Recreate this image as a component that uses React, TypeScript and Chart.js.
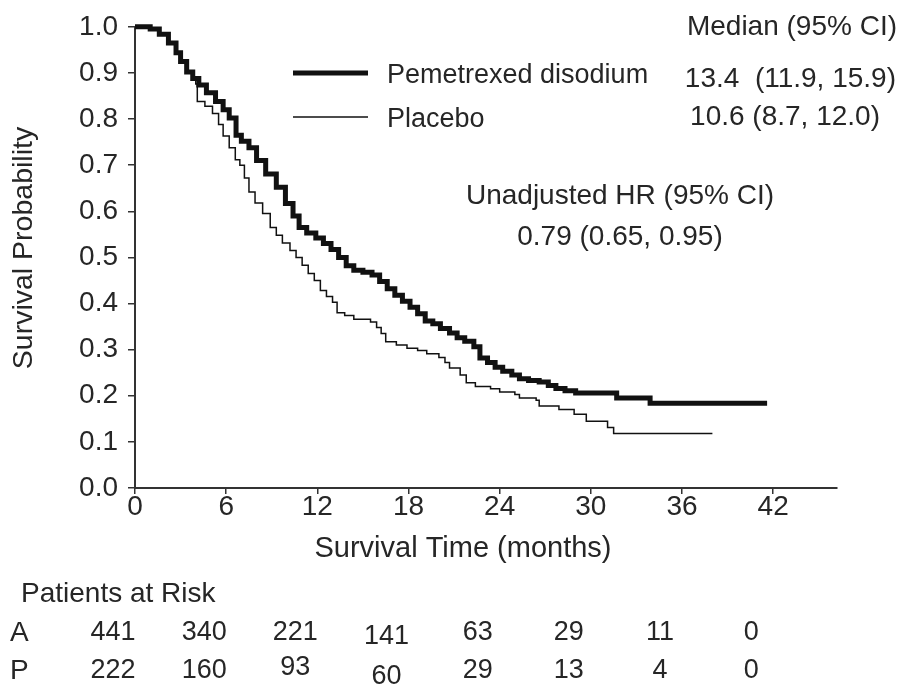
import { useEffect, useRef } from 'react'
import { Chart, registerables } from 'chart.js'

Chart.register(...registerables)

// Kaplan-Meier curves (months, survival probability)
const pemTime = [
  0, 0.5, 1.0, 1.6, 2.2, 2.7, 3.0, 3.4, 3.8, 4.2, 4.7, 5.3, 5.8, 6.2, 6.65, 7.0, 7.5, 8.0, 8.6, 9.3,
  9.9, 10.4, 10.8, 11.3, 11.9, 12.4, 12.9, 13.4, 13.9, 14.4, 15.0, 15.6, 16.1, 16.6, 17.1, 17.6,
  18.1, 18.6, 19.1, 19.6, 20.1, 20.7, 21.2, 21.7, 22.3, 22.7, 23.2, 23.7, 24.2, 24.8, 25.3, 25.9,
  26.6, 27.2, 27.7, 28.3, 29.0, 31.7, 33.9, 41.6,
]
const pemSurv = [
  1.0, 1.0, 0.995, 0.984, 0.965, 0.944, 0.925, 0.902, 0.888, 0.874, 0.857, 0.838, 0.82, 0.802, 0.765,
  0.752, 0.738, 0.71, 0.681, 0.652, 0.617, 0.59, 0.565, 0.553, 0.542, 0.53, 0.517, 0.5, 0.482, 0.472,
  0.468, 0.462, 0.448, 0.432, 0.418, 0.405, 0.392, 0.378, 0.362, 0.356, 0.346, 0.336, 0.326, 0.318,
  0.306, 0.282, 0.272, 0.262, 0.253, 0.245, 0.237, 0.233, 0.23, 0.222, 0.216, 0.211, 0.206, 0.195,
  0.184, 0.184,
]
const plaTime = [
  0, 0.5, 1.0, 1.6, 2.2, 2.7, 3.0, 3.4, 3.8, 4.0, 4.1, 4.6, 5.1, 5.5, 5.8, 6.2, 6.6, 6.9, 7.2, 7.5,
  7.9, 8.4, 8.9, 9.3, 9.7, 10.2, 10.6, 11.0, 11.4, 11.8, 12.2, 12.6, 13.0, 13.3, 13.8, 14.4, 15.5,
  15.9, 16.2, 16.5, 17.2, 17.9, 18.6, 19.2, 20.0, 20.4, 20.7, 21.4, 21.8, 22.4, 23.4, 24.0, 25.0,
  25.3, 26.4, 26.6, 27.9, 28.9, 29.7, 31.1, 31.5, 38.0,
]
const plaSurv = [
  1.0, 1.0, 0.995, 0.984, 0.965, 0.944, 0.925, 0.902, 0.888, 0.876, 0.838, 0.828, 0.812, 0.788, 0.763,
  0.738, 0.712, 0.7, 0.672, 0.642, 0.618, 0.595, 0.565, 0.548, 0.531, 0.515, 0.5, 0.483, 0.465, 0.45,
  0.428, 0.415, 0.403, 0.38, 0.374, 0.366, 0.36, 0.348, 0.335, 0.317, 0.31, 0.303, 0.298, 0.291,
  0.283, 0.272, 0.26, 0.245, 0.228, 0.22, 0.215, 0.208, 0.203, 0.195, 0.19, 0.178, 0.17, 0.16, 0.145,
  0.131, 0.118, 0.118,
]

const xTicks = [0, 6, 12, 18, 24, 30, 36, 42]
const yTicks = [0, 0.1, 0.2, 0.3, 0.4, 0.5, 0.6, 0.7, 0.8, 0.9, 1.0]

const seriesNames = ['Pemetrexed disodium', 'Placebo']
const medianHeader = 'Median (95% CI)'
const medianLabels = ['13.4  (11.9, 15.9)', '10.6 (8.7, 12.0)']
const hrLabels = ['Unadjusted HR (95% CI)', '0.79 (0.65, 0.95)']

const riskTimes = [0, 6, 12, 18, 24, 30, 36, 42]
const riskA = [441, 340, 221, 141, 63, 29, 11, 0]
const riskP = [222, 160, 93, 60, 29, 13, 4, 0]

const FAMILY = '"Liberation Sans", Arial, Helvetica, sans-serif'
const INK = '#262626'
const LINE = '#111111'
// small vertical nudges seen in the printed risk table
const shiftA = [0, 0, 0, 4, 0, 0, 0, 0]
const shiftP = [0, 0, -3, 6, 0, 0, 0, 0]

const textPlugin = {
  id: 'kmText',
  afterDraw(chart: any) {
    const { ctx } = chart
    const xs = chart.scales.x
    ctx.save()
    ctx.fillStyle = INK
    ctx.textBaseline = 'middle'

    // y axis title
    ctx.save()
    ctx.font = `28.5px ${FAMILY}`
    ctx.translate(24, 248)
    ctx.rotate(-Math.PI / 2)
    ctx.textAlign = 'center'
    ctx.fillText('Survival Probability', 0, 0)
    ctx.restore()

    // legend
    ctx.strokeStyle = LINE
    ctx.lineWidth = 5
    ctx.beginPath()
    ctx.moveTo(293, 73)
    ctx.lineTo(368, 73)
    ctx.stroke()
    ctx.lineWidth = 1.5
    ctx.beginPath()
    ctx.moveTo(293, 117)
    ctx.lineTo(368, 117)
    ctx.stroke()

    ctx.font = `27px ${FAMILY}`
    ctx.textAlign = 'left'
    ctx.fillText(seriesNames[0], 387, 76)
    ctx.fillText(seriesNames[1], 387, 120)

    ctx.font = `28px ${FAMILY}`
    ctx.textAlign = 'right'
    ctx.fillText(medianHeader, 897, 27)
    ctx.fillText(medianLabels[0], 896, 79)
    ctx.fillText(medianLabels[1], 880, 117)

    ctx.textAlign = 'center'
    ctx.fillText(hrLabels[0], 620, 196)
    ctx.fillText(hrLabels[1], 620, 237)
    ctx.font = `29px ${FAMILY}`
    ctx.fillText('Survival Time (months)', 463, 549)

    // patients at risk
    ctx.font = `28px ${FAMILY}`
    ctx.textAlign = 'left'
    ctx.fillText('Patients at Risk', 21, 594)
    ctx.fillText('A', 10, 633)
    ctx.fillText('P', 10, 671)
    ctx.font = `27px ${FAMILY}`
    ctx.textAlign = 'center'
    riskTimes.forEach((t, i) => {
      const px = xs.getPixelForValue(t) - 22
      ctx.fillText(String(riskA[i]), px, 633 + shiftA[i])
      ctx.fillText(String(riskP[i]), px, 671 + shiftP[i])
    })
    ctx.restore()
  },
}

export default function App() {
  const canvasRef = useRef<HTMLCanvasElement | null>(null)
  const chartRef = useRef<Chart | null>(null)

  useEffect(() => {
    const ctx = canvasRef.current?.getContext('2d')
    if (!ctx) return

    chartRef.current?.destroy()
    chartRef.current = new Chart(ctx, {
      type: 'line',
      data: {
        datasets: [
          {
            label: seriesNames[0],
            data: pemTime.map((t, i) => ({ x: t, y: pemSurv[i] })),
            borderColor: LINE,
            borderWidth: 5,
            pointRadius: 0,
            stepped: 'before',
            fill: false,
            clip: false,
          },
          {
            label: seriesNames[1],
            data: plaTime.map((t, i) => ({ x: t, y: plaSurv[i] })),
            borderColor: LINE,
            borderWidth: 1.5,
            pointRadius: 0,
            stepped: 'before',
            fill: false,
            clip: false,
          },
        ] as any,
      },
      options: {
        animation: false,
        responsive: true,
        maintainAspectRatio: false,
        layout: { padding: { top: 21, right: 67, bottom: 169, left: 0 } },
        plugins: {
          legend: { display: false },
          tooltip: { enabled: false },
        },
        scales: {
          x: {
            type: 'linear',
            min: 0,
            max: 46.2,
            afterBuildTicks: (s: any) => {
              s.ticks = xTicks.map((v) => ({ value: v }))
            },
            afterFit: (s: any) => {
              s.height = 30
            },
            border: { color: '#333', width: 2 },
            grid: {
              drawOnChartArea: false,
              drawTicks: true,
              tickLength: 6,
              color: '#333',
              lineWidth: 1.5,
            },
            ticks: {
              color: INK,
              font: { family: FAMILY, size: 28 },
              padding: -4,
              maxRotation: 0,
              autoSkip: false,
            },
          },
          y: {
            type: 'linear',
            min: 0,
            max: 1,
            afterBuildTicks: (s: any) => {
              s.ticks = yTicks.map((v) => ({ value: v }))
            },
            afterFit: (s: any) => {
              s.width = 135
            },
            border: { color: '#333', width: 2 },
            grid: {
              drawOnChartArea: false,
              drawTicks: true,
              tickLength: 7,
              color: '#333',
              lineWidth: 1.5,
            },
            ticks: {
              color: INK,
              font: { family: FAMILY, size: 28 },
              padding: 10,
              autoSkip: false,
              callback: (v: any) => Number(v).toFixed(1),
            },
          },
        },
      },
      plugins: [textPlugin],
    })

    return () => chartRef.current?.destroy()
  }, [])

  return (
    <div style={{ position: 'absolute', left: 0, top: 0, width: 904, height: 687, background: '#fff' }}>
      <canvas ref={canvasRef} />
    </div>
  )
}
